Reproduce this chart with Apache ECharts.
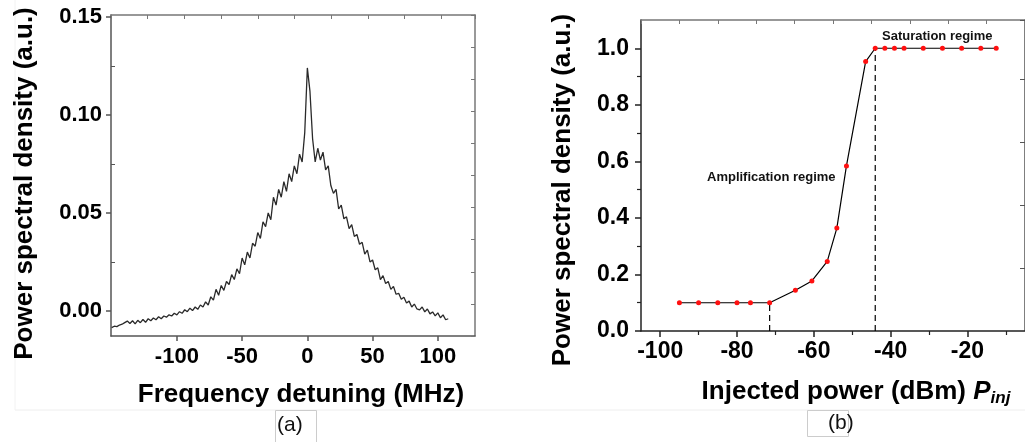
<!DOCTYPE html>
<html><head><meta charset="utf-8">
<script src="https://cdn.jsdelivr.net/npm/echarts@6/dist/echarts.min.js"></script>
<style>html,body{margin:0;padding:0;background:#fff}#c{width:1025px;height:442px}</style>
</head><body><div id="c"></div>
<script>
// Panel (a): spectrum
const freqMHz = [-150,-148,-146,-144,-142,-140,-138,-136,-134,-132,-130,-128,-126,-124,-122,-120,-118,-116,-114,-112,-110,-108,-106,-104,-102,
 -100,-98,-96,-94,-92,-90,-88,-86,-84,-82,-80,-78,-76,-74,-72,-70,-68,-66,-64,-62,-60,-58,-56,-54,-52,
 -50,-48,-46,-44,-42,-40,-38,-36,-34,-32,-30,-28,-26,-24,-22,-20,-18,-16,-14,-12,-10,-8,-6,-4,-2,
 0,2,4,6,8,10,12,14,16,18,20,22,24,26,28,30,32,34,36,38,40,42,44,46,48,
 50,52,54,56,58,60,62,64,66,68,70,72,74,76,78,80,82,84,86,88,90,92,94,96,98,100,102,104,106,108];
const psdA = [-0.0085,-0.0078,-0.0080,-0.0072,-0.0068,-0.0060,-0.0052,-0.0064,-0.0050,-0.0066,-0.0048,-0.0060,-0.0044,-0.0058,-0.0040,-0.0050,-0.0036,-0.0045,-0.0030,-0.0040,-0.0026,-0.0032,-0.0020,-0.0026,-0.0012,
 -0.0020,-0.0004,-0.0012,0.0006,-0.0004,0.0014,0.0002,0.0020,0.0008,0.0030,0.0020,0.0046,0.0030,0.0072,0.0055,0.0110,0.0080,0.0130,0.0105,0.0150,0.0135,0.0185,0.0160,0.0215,0.0190,
 0.0270,0.0235,0.0300,0.0270,0.0345,0.0330,0.0400,0.0370,0.0455,0.0430,0.0500,0.0465,0.0580,0.0540,0.0620,0.0580,0.0660,0.0610,0.0700,0.0660,0.0740,0.0700,0.0800,0.0760,0.0910,
 0.1240,0.1120,0.0880,0.0760,0.0830,0.0770,0.0810,0.0720,0.0740,0.0640,0.0600,0.0620,0.0520,0.0540,0.0470,0.0480,0.0420,0.0440,0.0380,0.0390,0.0340,0.0350,0.0290,0.0310,0.0250,
 0.0260,0.0210,0.0220,0.0160,0.0180,0.0140,0.0150,0.0110,0.0125,0.0085,0.0090,0.0060,0.0070,0.0040,0.0050,0.0020,0.0035,0.0010,0.0005,0.0020,-0.0005,0.0010,-0.0015,-0.0005,-0.0025,-0.0010,-0.0035,-0.0020,-0.0045,-0.0040];
const xTicksA = [-100,-50,0,50,100];
const yTicksA = [0,0.05,0.10,0.15];
const yMinorA = [0.025,0.075,0.125];

// Panel (b): saturation curve
const pinjDbm = [-95,-90,-85,-80,-76.5,-71.5,-64.8,-60.5,-56.5,-54,-51.5,-46.5,-44,-41.5,-39,-36.5,-31.5,-26.5,-21.5,-16.5,-12.5];
const psdB = [0.1,0.1,0.1,0.1,0.1,0.1,0.144,0.177,0.246,0.364,0.584,0.953,1,1,1,1,1,1,1,1,1];
const thresholdLow = -71.5, thresholdHigh = -44;
const xTicksB = [-100,-80,-60,-40,-20];
const xMinorB = [-90,-70,-50,-30,-10];
const yTicksB = [0,0.2,0.4,0.6,0.8,1.0];
const yMinorB = [0.1,0.3,0.5,0.7,0.9];

const FONT = '"Liberation Sans", Arial, sans-serif';
const chart = echarts.init(document.getElementById('c'));
const hidden = {show:false};
const tickLabel = {fontFamily:FONT, fontWeight:'bold', fontSize:22, color:'#000'};
const axisName = {fontFamily:FONT, fontWeight:'bold', fontSize:26, color:'#000'};
const line = (c,w)=>({show:true, onZero:false, lineStyle:{color:c, width:w}});

chart.setOption({
  animation:false,
  backgroundColor:'#fff',
  grid:[
    {left:111, top:15, width:364, height:321, containLabel:false, outerBoundsMode:'none'},
    {left:641, top:20, right:0, height:311, containLabel:false, outerBoundsMode:'none'}
  ],
  xAxis:[
    {gridIndex:0, type:'value', position:'bottom', min:-150.5, max:128.5,
     axisLine:line('#555',1.5), splitLine:hidden,
     axisTick:{customValues:xTicksA, length:5, lineStyle:{color:'#555', width:1.5}},
     axisLabel:{customValues:xTicksA, margin:10, ...tickLabel},
     name:'Frequency detuning (MHz)', nameLocation:'middle', nameGap:46,
     nameTextStyle:{...axisName, padding:[0,0,0,16]}},
    {gridIndex:0, type:'value', position:'top', min:0, max:9.92, interval:1,
     axisLine:line('#777',1.5), splitLine:hidden,
     axisTick:{inside:true, length:4, lineStyle:{color:'#777'}}, axisLabel:hidden},
    {gridIndex:1, type:'value', position:'bottom', min:-105, max:-5,
     axisLine:line('#222',1.5), splitLine:hidden,
     axisTick:{customValues:xTicksB, length:6, lineStyle:{color:'#222', width:1.5}},
     axisLabel:{customValues:xTicksB, margin:9, ...tickLabel, fontSize:23},
     name:'Injected power (dBm) {p|P}{s|inj}', nameLocation:'middle', nameGap:45,
     nameTextStyle:{...axisName, padding:[0,0,0,46],
       rich:{p:{fontFamily:FONT, fontWeight:'bold', fontStyle:'italic', fontSize:26, color:'#000'},
             s:{fontFamily:FONT, fontWeight:'bold', fontStyle:'italic', fontSize:17, color:'#000', padding:[14,0,0,0]}}}},
    {gridIndex:1, type:'value', position:'bottom', min:-105, max:-5,
     axisLine:{show:false, onZero:false}, splitLine:hidden,
     axisTick:{customValues:xMinorB, length:4, lineStyle:{color:'#222', width:1.2}}, axisLabel:hidden},
    {gridIndex:1, type:'value', position:'top', min:-105, max:-5, interval:10,
     axisLine:line('#777',1.5), splitLine:hidden,
     axisTick:{inside:true, length:4, lineStyle:{color:'#777'}}, axisLabel:hidden}
  ],
  yAxis:[
    {gridIndex:0, type:'value', position:'left', min:-0.0128, max:0.151,
     axisLine:line('#555',1.5), splitLine:hidden,
     axisTick:{show:true, customValues:yTicksA, length:5, lineStyle:{color:'#555', width:1.5}},
     axisLabel:{customValues:yTicksA, margin:9, ...tickLabel, formatter:v=>v.toFixed(2)},
     name:'Power spectral density (a.u.)', nameLocation:'middle', nameGap:73,
     nameTextStyle:{...axisName, padding:[0,16,0,0]}},
    {gridIndex:0, type:'value', position:'left', min:-0.0128, max:0.151,
     axisLine:{show:false, onZero:false}, splitLine:hidden,
     axisTick:{show:true, inside:true, customValues:yMinorA, length:4, lineStyle:{color:'#555'}}, axisLabel:hidden},
    {gridIndex:0, type:'value', position:'right', min:0, max:10, interval:1,
     axisLine:line('#777',1.5), splitLine:hidden,
     axisTick:{show:true, inside:true, length:4, lineStyle:{color:'#777'}}, axisLabel:hidden},
    {gridIndex:1, type:'value', position:'left', min:0, max:1.1,
     axisLine:line('#222',1.5), splitLine:hidden,
     axisTick:{show:true, customValues:yTicksB, length:6, lineStyle:{color:'#222', width:1.5}},
     axisLabel:{customValues:yTicksB, margin:12, ...tickLabel, fontSize:23, formatter:v=>v.toFixed(1)},
     name:'Power spectral density (a.u.)', nameLocation:'middle', nameGap:65,
     nameTextStyle:{...axisName, padding:[0,29,0,0]}},
    {gridIndex:1, type:'value', position:'left', min:0, max:1.1,
     axisLine:{show:false, onZero:false}, splitLine:hidden,
     axisTick:{show:true, customValues:yMinorB, length:4, lineStyle:{color:'#222', width:1.2}}, axisLabel:hidden},
    {gridIndex:1, type:'value', position:'right', min:0, max:4.94, interval:1,
     axisLine:line('#555',1.5), splitLine:hidden,
     axisTick:{show:true, inside:true, length:5, lineStyle:{color:'#555'}}, axisLabel:hidden}
  ],
  series:[
    {type:'line', xAxisIndex:0, yAxisIndex:0, showSymbol:false, symbol:'none',
     data:freqMHz.map((f,i)=>[f, psdA[i]]), lineStyle:{color:'#2a2a2a', width:1.3}},
    {type:'line', xAxisIndex:2, yAxisIndex:3, symbol:'circle', symbolSize:5,
     itemStyle:{color:'#ff1010'}, lineStyle:{color:'#000', width:1.2}, z:3,
     data:pinjDbm.map((p,i)=>[p, psdB[i]])},
    {type:'line', xAxisIndex:2, yAxisIndex:3, symbol:'none',
     lineStyle:{color:'#000', width:1.2, type:[6,4]},
     data:[[thresholdLow,0],[thresholdLow,psdB[5]]]},
    {type:'line', xAxisIndex:2, yAxisIndex:3, symbol:'none',
     lineStyle:{color:'#000', width:1.2, type:[6,4]},
     data:[[thresholdHigh,0],[thresholdHigh,psdB[12]]]}
  ],
  graphic:[
    {type:'line', shape:{x1:15, y1:410, x2:1025, y2:410}, style:{stroke:'#eee', lineWidth:1}, silent:true},
    {type:'line', shape:{x1:15, y1:0, x2:15, y2:410}, style:{stroke:'#f2f2f2', lineWidth:1}, silent:true},
    {type:'rect', shape:{x:275.5, y:410.5, width:41, height:40}, style:{fill:'none', stroke:'#ccc', lineWidth:1}, silent:true},
    {type:'rect', shape:{x:807.5, y:410.5, width:41, height:26}, style:{fill:'none', stroke:'#ccc', lineWidth:1}, silent:true},
    {type:'text', x:277, y:425, style:{text:'(a)', font:'21px '+FONT, fill:'#111', verticalAlign:'middle'}},
    {type:'text', x:828, y:423, style:{text:'(b)', font:'21px '+FONT, fill:'#111', verticalAlign:'middle'}},
    {type:'text', x:707, y:177, style:{text:'Amplification regime', font:'bold 13px '+FONT, fill:'#111', verticalAlign:'middle'}},
    {type:'text', x:882, y:36, style:{text:'Saturation regime', font:'bold 13px '+FONT, fill:'#111', verticalAlign:'middle'}}
  ]
});
</script></body></html>
